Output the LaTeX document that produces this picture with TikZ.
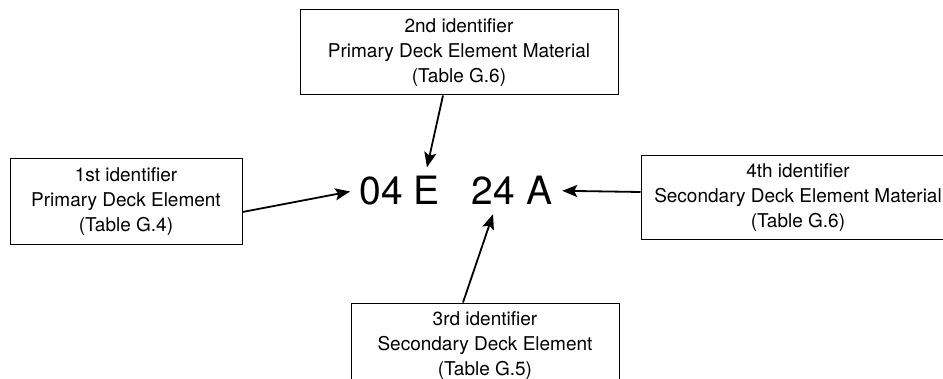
\documentclass[tikz,border=0pt]{standalone}
\usepackage{fontspec}
\setmainfont{TeX Gyre Heros}
\usetikzlibrary{arrows.meta}

\begin{document}
\begin{tikzpicture}[x=1pt, y=1pt, >={Stealth[length=15pt, width=12pt, inset=3pt]}]
    \tikzstyle{box} = [draw, line width=1pt, align=center, inner sep=0pt, font=\fontsize{19}{25}\selectfont]
	\tikzstyle{code} = [inner sep=9pt, anchor=base, font=\fontsize{39}{45}\selectfont]
	\useasboundingbox (0,0) rectangle (943,378);
	\clip (0,0) rectangle (943,378);
	% the code and its four parts
	\node[code] (c04) at (381,173) {04};
	\node[code] (cE) at (427,173) {E};
	\node[code] (c24) at (493,173) {24};
	\node[code] (cA) at (540,173) {A};
	% the identifier boxes
	\node[box, minimum width=232pt, minimum height=86pt] (first) at (126,176)
		{1st identifier\\Primary Deck Element\\(Table G.4)};
	\node[box, minimum width=318pt, minimum height=85pt] (second) at (459,325.5)
		{2nd identifier\\Primary Deck Element Material\\(Table G.6)};
	\node[box, minimum width=268pt, minimum height=85pt] (third) at (485,32.5)
		{3rd identifier\\Secondary Deck Element\\(Table G.5)};
	\node[box, minimum width=314pt, minimum height=84pt] (fourth) at (798,180)
		{4th identifier\\Secondary Deck Element Material\\(Table G.6)};
	\path[->, line width=1.8pt]
		([yshift=-10pt]first.east) edge (c04.west)
		([xshift=-16pt]second.south) edge (cE.north)
		([xshift=-22pt]third.north) edge (c24.south)
		([yshift=6pt]fourth.west) edge (cA.east)
		;
\end{tikzpicture}
\end{document}
